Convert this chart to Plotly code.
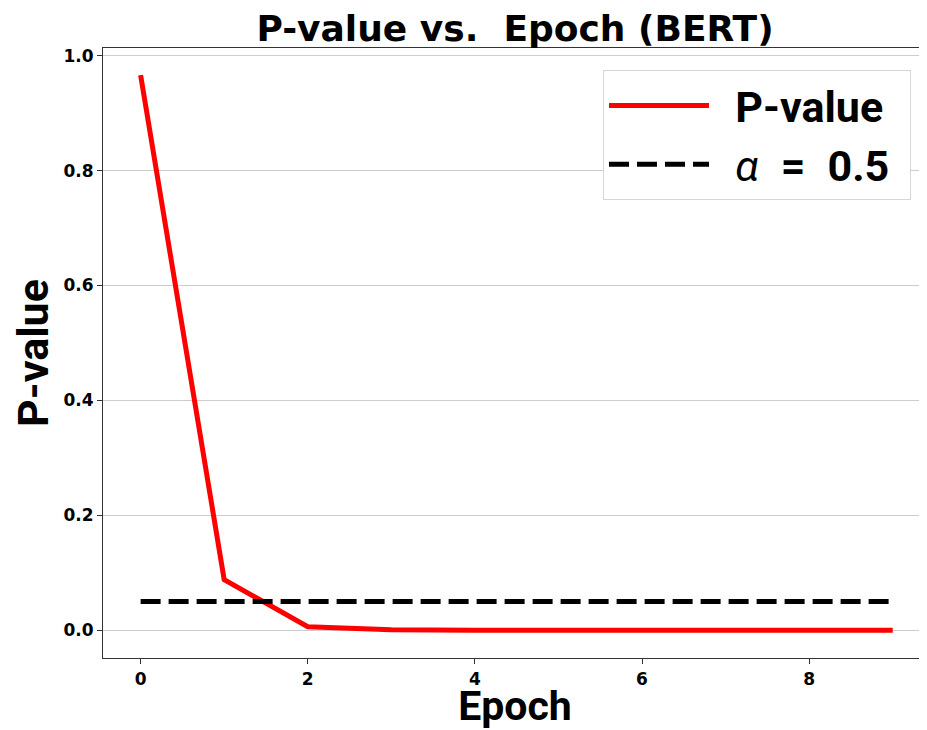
import plotly.graph_objects as go

epochs = [0, 1, 2, 3, 4, 5, 6, 7, 8, 9]
p_values = [0.966, 0.088, 0.006, 0.001, 0.0, 0.0, 0.0, 0.0, 0.0, 0.0]
alpha_level = [0.05] * 10
x_ticks = [0, 2, 4, 6, 8]
y_ticks = [0.0, 0.2, 0.4, 0.6, 0.8, 1.0]

fig = go.Figure()
fig.add_trace(go.Scatter(x=epochs, y=p_values, mode="lines",
                         name="\u00a0\u00a0<b>P-value</b>\u00a0\u00a0",
                         legendgroup="a",
                         line=dict(color="#ff0000", width=5)))
fig.add_trace(go.Scatter(x=epochs, y=alpha_level, mode="lines",
                         name="\u00a0\u00a0<i>α</i>\u2002<b>=\u20020.5</b>",
                         legendgroup="b",
                         line=dict(color="black", width=5, dash="20px,8px")))

fig.update_layout(
    width=919, height=722,
    margin=dict(l=95, r=0, t=40, b=72),
    paper_bgcolor="white", plot_bgcolor="white",
    title=dict(text="<b>P-value vs.  Epoch (BERT)</b>", xref="paper", x=0.5, xanchor="center",
               y=0.972, yanchor="middle",
               font=dict(family="DejaVu Sans", size=36, color="black")),
    showlegend=True,
    legend=dict(x=0.9806, y=0.964, xanchor="right", yanchor="top",
                bgcolor="white", bordercolor="#d6d6d6", borderwidth=1,
                font=dict(family="Roboto", size=43, color="black"),
                itemwidth=100, tracegroupgap=0),
    xaxis=dict(range=[-0.45, 9.41], tickvals=x_ticks, ticks="outside", ticklen=5, tickwidth=1,
               tickcolor="#333", showgrid=False, zeroline=False, automargin=False,
               showline=True, linecolor="#333", linewidth=1.2, mirror=True,
               tickfont=dict(family="DejaVu Sans", size=17, color="black", weight="bold"),
               title=dict(text="<b>Epoch</b>", standoff=10,
                          font=dict(family="Roboto", size=41, color="black"))),
    yaxis=dict(range=[-0.0483, 1.0133], tickvals=y_ticks, tickformat=".1f", ticks="outside",
               ticklen=5, tickwidth=1, tickcolor="#333", automargin=False,
               showgrid=True, gridcolor="#cccccc", gridwidth=1, zeroline=False,
               showline=True, linecolor="#333", linewidth=1.2, mirror=False,
               tickfont=dict(family="DejaVu Sans", size=17, color="black", weight="bold"),
               title=dict(text="<b>P-value</b>", standoff=8,
                          font=dict(family="Roboto", size=43, color="black"))),
)

fig.write_html("out.html")
